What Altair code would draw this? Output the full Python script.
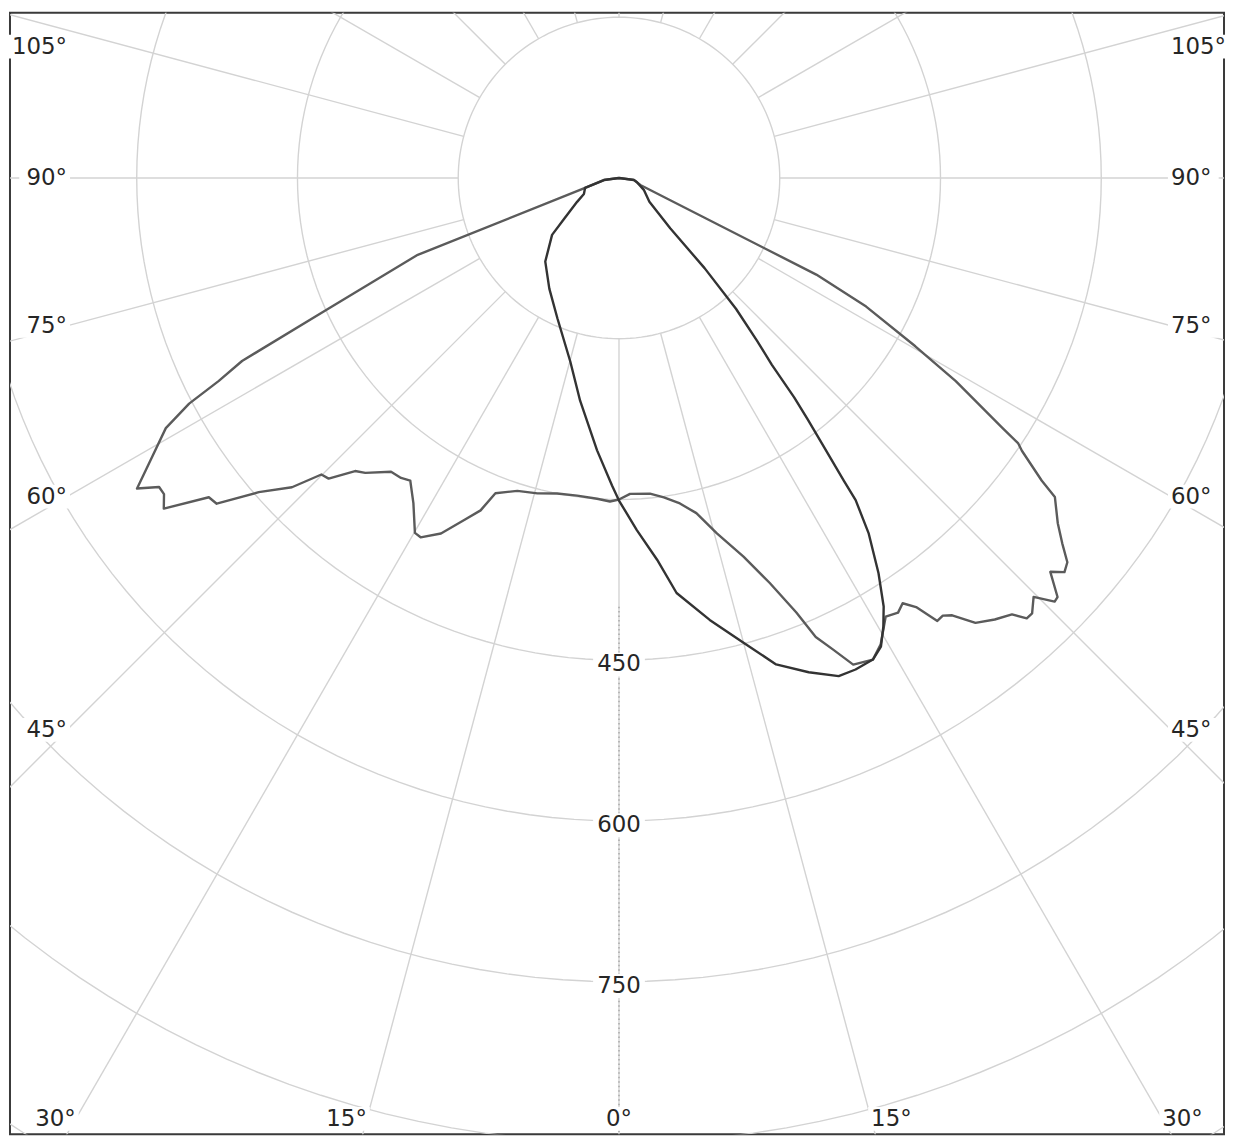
import altair as alt
import pandas as pd
import numpy as np

# ---------------- data ----------------
# angle in degrees from nadir (negative = left half), intensity in cd
wide_angle = [-90, -82.4, -73.6, -69.1, -65.8, -64.1, -63.1, -62.3, -61.1, -59.1, -57.2,
              -56.1, -55.2, -54.0, -52.1, -51.0, -48.9, -46.6, -45.1, -44.0, -42.0, -40.7, -37.8,
              -36.0, -34.6, -32.3, -29.9, -28.9, -26.6, -24.3, -22.6, -21.4, -18.0, -14.5, -11.1,
              -7.5, -3.9, -1.6, 0.0, 2.0, 5.6, 8.0, 10.6, 13.0, 15.4, 18.2, 20.4, 22.2, 23.2, 24.4,
              25.7, 27.8, 29.3, 31.3, 32.7, 33.7, 34.7, 35.7, 36.5, 37.3, 38.7, 40.4, 42.0, 42.8,
              43.5, 44.7, 45.8, 46.3, 47.6, 48.5, 49.4, 50.5, 51.8, 53.8, 54.4, 55.9, 56.4, 56.9,
              58.9, 60.4, 62.5, 63.9, 71.6, 82.4, 90]
wide_cd = [0, 14, 33, 201, 297, 391, 419, 453, 483, 508, 535,
           517, 517, 525, 485, 483, 446, 420, 392, 390, 368, 363, 347,
           346, 343, 359, 382, 383, 371, 350, 336, 316, 307, 304, 300,
           299, 300, 302, 300, 295, 296, 301, 309, 321, 344, 372, 403, 438, 466, 483,
           504, 508, 499, 479, 482, 477, 487, 509, 508, 513, 532, 541, 548, 560,
           560, 550, 567, 566, 545, 555, 551, 536, 521, 504, 485, 454, 447, 427,
           367, 318, 260, 205, 21, 14, 0]

narrow_angle = [-90, -82, -73.6, -65.4, -60.3, -53.3, -49.6, -41.4, -32.2, -23.7,
                -14.9, -9.9, -4.6, -1.3, 0.0, 2.9, 5.7, 7.9, 11.6, 15.0,
                17.9, 21.0, 23.8, 25.7, 27.8, 29.2, 30.5, 31.7, 33.3, 35.1,
                36.3, 36.6, 37.3, 38.0, 38.6, 39.3, 40.3, 41.8, 43.5, 45.5,
                52.0, 64.0, 77.0, 82.0, 90]
narrow_cd = [0, 14, 33, 36, 45, 64, 82, 104, 122, 143,
             177, 211, 255, 287, 301, 329, 358, 391, 421, 449,
             477, 494, 508, 509, 508, 501, 486, 470, 441, 405,
             373, 352, 316, 286, 262, 225, 199, 164, 116, 67,
             36, 26, 17, 14, 0]

ring_values = [150, 300, 450, 600, 750, 900, 1050, 1200]
spoke_angles = list(range(-180, 180, 15))
angle_label_values = [105, 90, 75, 60, 45, 30, 15, 0]
ring_label_values = [450, 600, 750]

# ---------------- geometry of the frame ----------------
K = 1.077             # pixels per cd
W, H = 1220, 1127     # plot area
CX, CY = 612, 166     # pole position inside plot area (px)
XD = [-CX / K, (W - CX) / K]
YD = [-(H - CY) / K, CY / K]
SIDE = 515.0          # horizontal distance of side angle labels (cd units)
BOTTOM = 878.0        # vertical distance of bottom angle labels (cd units)
TOP_LIMIT = YD[1] - 34 / K
FS = 23

xs = alt.Scale(domain=XD, nice=False, zero=False)
ys = alt.Scale(domain=YD, nice=False, zero=False)


def XY(xf="x", yf="y"):
    return dict(x=alt.X(f"{xf}:Q", scale=xs, axis=None),
                y=alt.Y(f"{yf}:Q", scale=ys, axis=None))


PX = "datum.cd * sin(datum.ang * PI / 180)"
PY = "-datum.cd * cos(datum.ang * PI / 180)"
GRID = "#d3d3d3"

# rings
ring_df = pd.DataFrame([(r, t) for r in ring_values for t in range(0, 361, 2)],
                       columns=["cd", "ang"])
rings = alt.Chart(ring_df).transform_calculate(x=PX, y=PY).mark_line(
    clip=True, color=GRID, strokeWidth=1.4
).encode(**XY(), detail="cd:N", order="ang:Q")

# spokes
spoke_df = pd.DataFrame({"ang": spoke_angles})
spokes = alt.Chart(spoke_df).transform_calculate(
    x="150 * sin(datum.ang * PI / 180)", y="-150 * cos(datum.ang * PI / 180)",
    x2="1600 * sin(datum.ang * PI / 180)", y2="-1600 * cos(datum.ang * PI / 180)",
).mark_rule(clip=True, color=GRID, strokeWidth=1.4).encode(
    **XY(), x2="x2:Q", y2="y2:Q")

# dotted nadir axis
nadir = alt.Chart(pd.DataFrame({"ang": [0]})).transform_calculate(
    x="0", y="-400", y2="-1600"
).mark_rule(clip=True, color="#a0a0a0", strokeWidth=1.3, strokeDash=[1.5, 3]).encode(
    **XY(), y2="y2:Q")

# curves
curves_df = pd.concat([
    pd.DataFrame({"series": "A", "ang": wide_angle, "cd": wide_cd,
                  "i": range(len(wide_angle))}),
    pd.DataFrame({"series": "B", "ang": narrow_angle, "cd": narrow_cd,
                  "i": range(len(narrow_angle))}),
])
curves = alt.Chart(curves_df).transform_calculate(x=PX, y=PY).mark_line(
    clip=True, strokeWidth=2.4, strokeJoin="round"
).encode(
    **XY(), order="i:Q",
    color=alt.Color("series:N", legend=None,
                    scale=alt.Scale(domain=["A", "B"], range=["#5b5b5b", "#333333"])),
)

# angle labels
rows = []
for v in angle_label_values:
    for s in ((-1, 1) if v > 0 else (0,)):
        t = np.radians(v)
        if v >= 45:
            x = s * SIDE
            y = min(-SIDE * np.cos(t) / np.sin(t), TOP_LIMIT)
        else:
            x = s * BOTTOM * np.tan(t)
            y = -BOTTOM
        text = f"{v}°"
        wpx = 14 * len(text) + 6
        if s < 0:
            bx1, bx2, al = x - wpx / K, x + 3 / K, "right"
        elif s > 0:
            bx1, bx2, al = x - 3 / K, x + wpx / K, "left"
        else:
            bx1, bx2, al = x - wpx / 2 / K, x + wpx / 2 / K, "center"
        rows.append(dict(text=text, x=x, y=y, bx1=bx1, bx2=bx2,
                         by1=y - 12 / K, by2=y + 12 / K, al=al))
for v in ring_label_values:
    y = -(v + 4)
    rows.append(dict(text=str(v), x=0.0, y=y, bx1=-26 / K, bx2=26 / K,
                     by1=y - 12 / K, by2=y + 12 / K, al="center"))
lab_df = pd.DataFrame(rows)

label_bg = alt.Chart(lab_df).mark_rect(color="white").encode(
    x=alt.X("bx1:Q", scale=xs, axis=None), x2="bx2:Q",
    y=alt.Y("by1:Q", scale=ys, axis=None), y2="by2:Q")


def text_layer(al):
    return alt.Chart(lab_df).transform_filter(f"datum.al == '{al}'").mark_text(
        align=al, baseline="middle", font="DejaVu Sans", fontSize=FS, color="#262626"
    ).encode(**XY(), text="text:N")


chart = alt.layer(
    rings, spokes, nadir, label_bg, curves,
    text_layer("right"), text_layer("left"), text_layer("center"),
).properties(
    width=W, height=H, padding={"left": 2, "top": 2, "right": 2, "bottom": 2},
    autosize="none", background="white",
).configure_view(stroke="#3a3a3a", strokeWidth=2)

chart.save("out.html", embed_options={"renderer": "svg", "actions": False})
